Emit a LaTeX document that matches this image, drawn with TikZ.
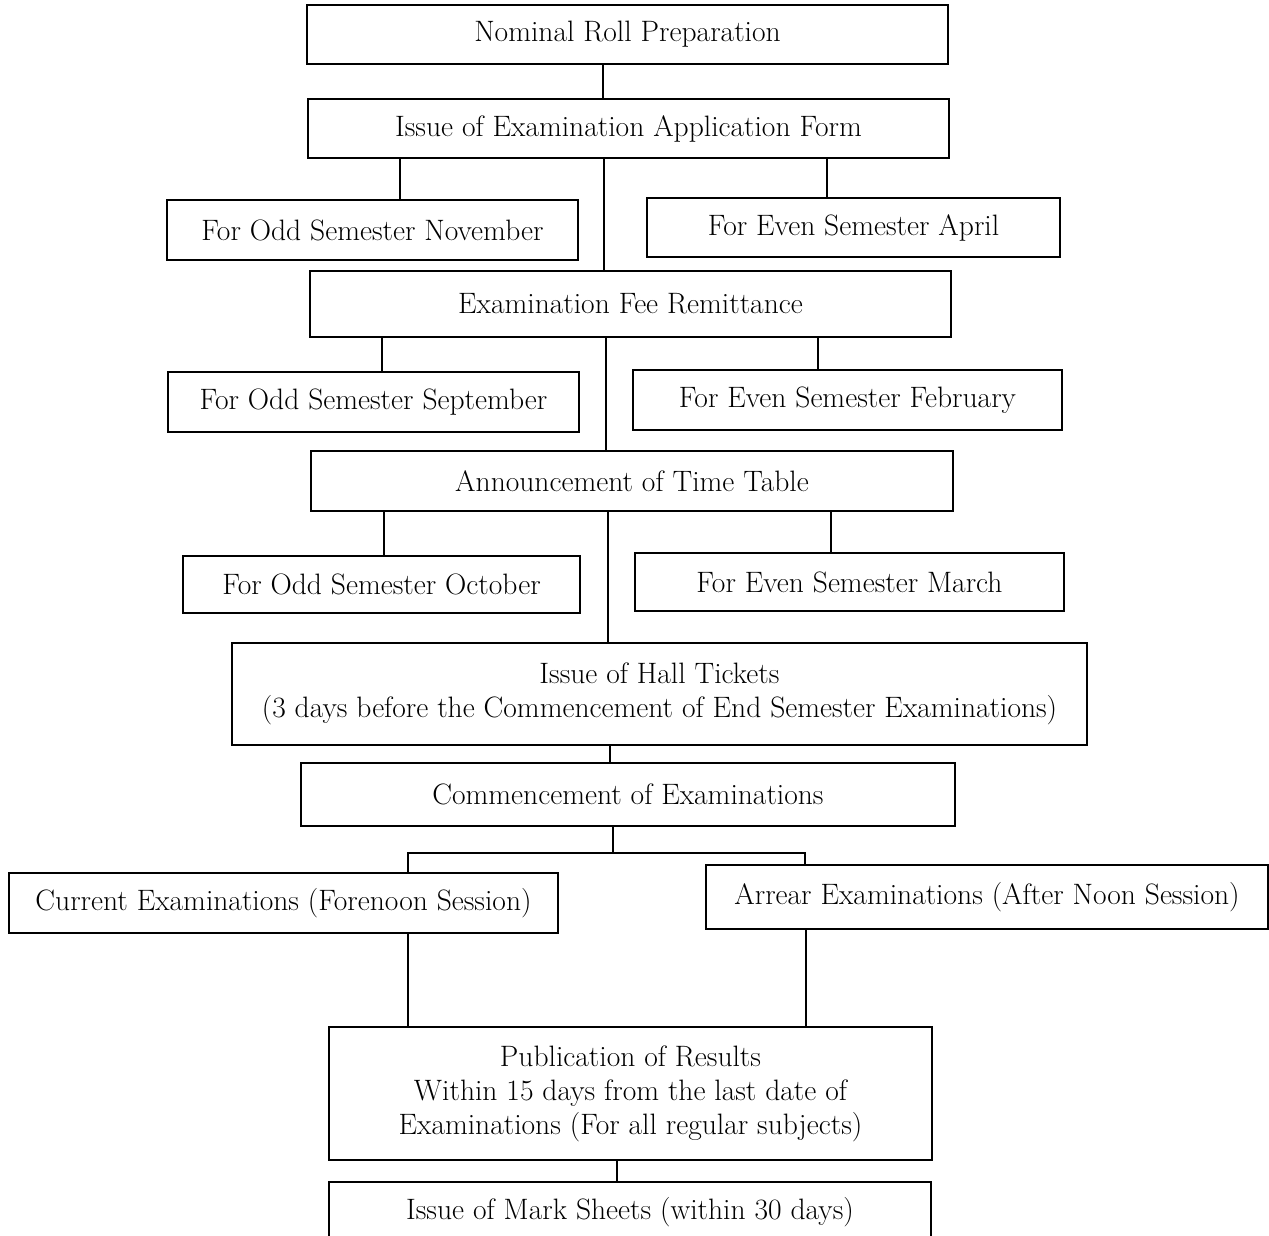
\documentclass[tikz,border=0pt]{standalone}
\usepackage{amsmath}
\usepackage{tikz}

\begin{document}
\begin{tikzpicture}[x=0.02cm, y=-0.02cm,
    stage/.style={draw, line width=0.9pt, align=center, inner sep=0pt,
        font=\fontsize{16.8}{19.4}\selectfont},
    link/.style={line width=0.9pt}]
    \useasboundingbox (0,0) rectangle (1269,1236);
    \clip (0,0) rectangle (1269,1236);
    % Top of the chart
    \node[stage, minimum width=12.82cm, minimum height=1.18cm] (nom) at (627.5,34.5) {Nominal Roll Preparation};
    \node[stage, minimum width=12.82cm, minimum height=1.18cm] (app) at (628.5,128.5) {Issue of Examination Application Form};
    \node[stage, minimum width=8.22cm, minimum height=1.2cm] (oddA) at (372.5,230) {For Odd Semester November};
    \node[stage, minimum width=8.26cm, minimum height=1.18cm] (evenA) at (853.5,227.5) {For Even Semester April};
    % Fee
    \node[stage, minimum width=12.82cm, minimum height=1.32cm] (fee) at (630.5,304) {Examination Fee Remittance};
    \node[stage, minimum width=8.22cm, minimum height=1.2cm] (oddB) at (373.5,402) {For Odd Semester September};
    \node[stage, minimum width=8.58cm, minimum height=1.2cm] (evenB) at (847.5,400) {For Even Semester February};
    % Time table
    \node[stage, minimum width=12.84cm, minimum height=1.2cm] (tt) at (632,481) {Announcement of Time Table};
    \node[stage, minimum width=7.94cm, minimum height=1.14cm] (oddC) at (381.5,584.5) {For Odd Semester October};
    \node[stage, minimum width=8.58cm, minimum height=1.16cm] (evenC) at (849.5,582) {For Even Semester March};
    % Examinations
    \node[stage, minimum width=17.1cm, minimum height=2.04cm] (hall) at (659.5,694) {Issue of Hall Tickets\\(3 days before the Commencement of End Semester Examinations)};
    \node[stage, minimum width=13.08cm, minimum height=1.26cm] (comm) at (628,794.5) {Commencement of Examinations};
    \node[stage, minimum width=10.98cm, minimum height=1.2cm] (cur) at (283.5,903) {Current Examinations (Forenoon Session)};
    \node[stage, minimum width=11.24cm, minimum height=1.28cm] (arr) at (987,897) {Arrear Examinations (After Noon Session)};
    % Results
    \node[stage, minimum width=12.06cm, minimum height=2.66cm] (pub) at (630.5,1093.5) {Publication of Results\\Within 15 days from the last date of\\Examinations (For all regular subjects)};
    \node[stage, minimum width=12.04cm, minimum height=1.2cm] (mark) at (630,1212) {Issue of Mark Sheets (within 30 days)};
    % Connectors
    \draw[link] (nom.south -| 603,0) -- (app.north -| 603,0);
    \draw[link] (app.south -| 400,0) -- (oddA.north -| 400,0);
    \draw[link] (app.south -| 827,0) -- (evenA.north -| 827,0);
    \draw[link] (app.south -| 604,0) -- (fee.north -| 604,0);
    \draw[link] (fee.south -| 382,0) -- (oddB.north -| 382,0);
    \draw[link] (fee.south -| 818,0) -- (evenB.north -| 818,0);
    \draw[link] (fee.south -| 606,0) -- (tt.north -| 606,0);
    \draw[link] (tt.south -| 384,0) -- (oddC.north -| 384,0);
    \draw[link] (tt.south -| 831,0) -- (evenC.north -| 831,0);
    \draw[link] (tt.south -| 608,0) -- (hall.north -| 608,0);
    \draw[link] (hall.south -| 610,0) -- (comm.north -| 610,0);
    \coordinate (fork) at (613,853);
    \draw[link] (comm.south -| fork) -- (fork);
    \draw[link] (cur.north -| 408,0) |- (fork) -| (arr.north -| 805,0);
    \draw[link] (cur.south -| 408,0) -- (pub.north -| 408,0);
    \draw[link] (arr.south -| 806,0) -- (pub.north -| 806,0);
    \draw[link] (pub.south -| 617,0) -- (mark.north -| 617,0);
\end{tikzpicture}
\end{document}
